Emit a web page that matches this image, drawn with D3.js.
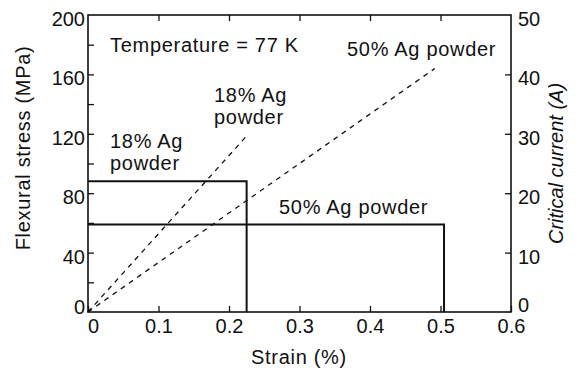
<!DOCTYPE html>
<html>
<head>
<meta charset="utf-8">
<script src="https://cdn.jsdelivr.net/npm/d3@7"></script>
<style>
  html, body { margin: 0; padding: 0; background: #fff; }
  svg text { font-family: "Liberation Sans", Arial, Helvetica, sans-serif; fill: #111; }
  .wide { letter-spacing: 0.7px; }
</style>
</head>
<body>
<svg id="chart" width="579" height="370"></svg>
<script>
// Axis ticks
const strainTicks = [0, 0.1, 0.2, 0.3, 0.4, 0.5, 0.6];
const stressTicks = [0, 40, 80, 120, 160, 200];
const stressMinorTicks = [20, 60, 100, 140, 180];
const currentTicks = [0, 10, 20, 30, 40, 50];

// Samples
const samples = ["18% Ag powder", "50% Ag powder"];
// Flexural stress plateau (MPa) and fracture strain (%)
const flexuralStress = [88, 59];
const fractureStrain = [0.225, 0.505];
// Critical current line end points: strain (%) and current (A)
const currentStrain = [0.224, 0.492];
const criticalCurrent = [29.5, 41];

const W = 579, H = 370;
const margin = { top: 15, right: 68, bottom: 58, left: 88 };
const iw = W - margin.left - margin.right;
const ih = H - margin.top - margin.bottom;

const svg = d3.select("#chart");
const g = svg.append("g").attr("transform", `translate(${margin.left},${margin.top})`);

const x = d3.scaleLinear().domain([0, 0.6]).range([0, iw]);
const yS = d3.scaleLinear().domain([0, 200]).range([ih, 0]);
const yC = d3.scaleLinear().domain([0, 50]).range([ih, 0]);

const fs = 20;
const tickLen = 6;

// Frame
g.append("rect").attr("x", 0).attr("y", 0).attr("width", iw).attr("height", ih)
  .attr("fill", "none").attr("stroke", "#111").attr("stroke-width", 1.6);

// Bottom axis (ticks pointing inward)
const axBottom = g.append("g").attr("transform", `translate(0,${ih})`)
  .call(d3.axisBottom(x).tickValues(strainTicks).tickSize(-tickLen).tickPadding(7)
    .tickFormat(d => d === 0 ? "0" : d3.format(".1f")(d)));
// Top ticks
const axTop = g.append("g")
  .call(d3.axisTop(x).tickValues(strainTicks.slice(1, -1)).tickSize(-tickLen).tickFormat(""));
// Left axis
const axLeft = g.append("g")
  .call(d3.axisLeft(yS).tickValues(stressTicks.concat(stressMinorTicks)).tickSize(-tickLen).tickPadding(3)
    .tickFormat(d => stressTicks.includes(d) ? d : ""));
// Right axis
const axRight = g.append("g").attr("transform", `translate(${iw},0)`)
  .call(d3.axisRight(yC).tickValues(currentTicks).tickSize(-tickLen).tickPadding(7));

[axBottom, axTop, axLeft, axRight].forEach(a => {
  a.select(".domain").remove();
  a.selectAll(".tick line").attr("stroke", "#111").attr("stroke-width", 1.3);
  a.selectAll("text").attr("font-size", fs).attr("fill", "#111")
    .style("font-family", "'Liberation Sans', Arial, sans-serif");
});
axBottom.selectAll("text").attr("dy", "0.71em");
axBottom.selectAll(".tick").filter(d => d === 0).select("text").attr("dx", 5);
axLeft.selectAll(".tick text").attr("dy", d => d === 0 ? "0.07em" : "0.52em");
axRight.selectAll(".tick text").attr("dy", d => d === 0 ? "-0.03em" : "0.52em");
axLeft.selectAll(".tick").filter(d => d === 0 || d === 200).select("line").remove();
axRight.selectAll(".tick").filter(d => d === 0 || d === 50).select("line").remove();

// Flexural stress: plateau then drop at fracture
samples.forEach((s, i) => {
  const pts = [[0, flexuralStress[i]], [fractureStrain[i], flexuralStress[i]], [fractureStrain[i], 0]];
  g.append("path")
    .attr("d", d3.line().x(d => x(d[0])).y(d => yS(d[1]))(pts))
    .attr("fill", "none").attr("stroke", "#111").attr("stroke-width", 2);
});

// Critical current vs strain (dashed)
samples.forEach((s, i) => {
  const pts = [[0, 0], [currentStrain[i], criticalCurrent[i]]];
  g.append("path")
    .attr("d", d3.line().x(d => x(d[0])).y(d => yC(d[1]))(pts))
    .attr("fill", "none").attr("stroke", "#111").attr("stroke-width", 1.3)
    .attr("stroke-dasharray", "5,5");
});

// Annotations
const ann = svg.append("g").attr("font-size", fs).attr("class", "wide");
ann.append("text").attr("x", 110).attr("y", 52).text("Temperature = 77 K");
ann.append("text").attr("x", 347).attr("y", 56).text("50% Ag powder");
ann.append("text").attr("x", 214).attr("y", 102).text("18% Ag");
ann.append("text").attr("x", 214).attr("y", 124).text("powder");
ann.append("text").attr("x", 110).attr("y", 148).text("18% Ag");
ann.append("text").attr("x", 110).attr("y", 170).text("powder");
ann.append("text").attr("x", 279).attr("y", 214).text("50% Ag powder");

// Axis titles
svg.append("text").attr("class", "wide").attr("x", 299).attr("y", 364)
  .attr("text-anchor", "middle").attr("font-size", fs).text("Strain (%)");
svg.append("text").attr("class", "wide").attr("transform", "translate(30,148) rotate(-90)")
  .attr("text-anchor", "middle").attr("font-size", fs).text("Flexural stress (MPa)");
svg.append("text").attr("transform", `translate(563,${margin.top + ih / 2}) rotate(-90)`)
  .attr("text-anchor", "middle").attr("font-size", fs).attr("font-style", "italic")
  .text("Critical current (A)");
</script>
</body>
</html>
